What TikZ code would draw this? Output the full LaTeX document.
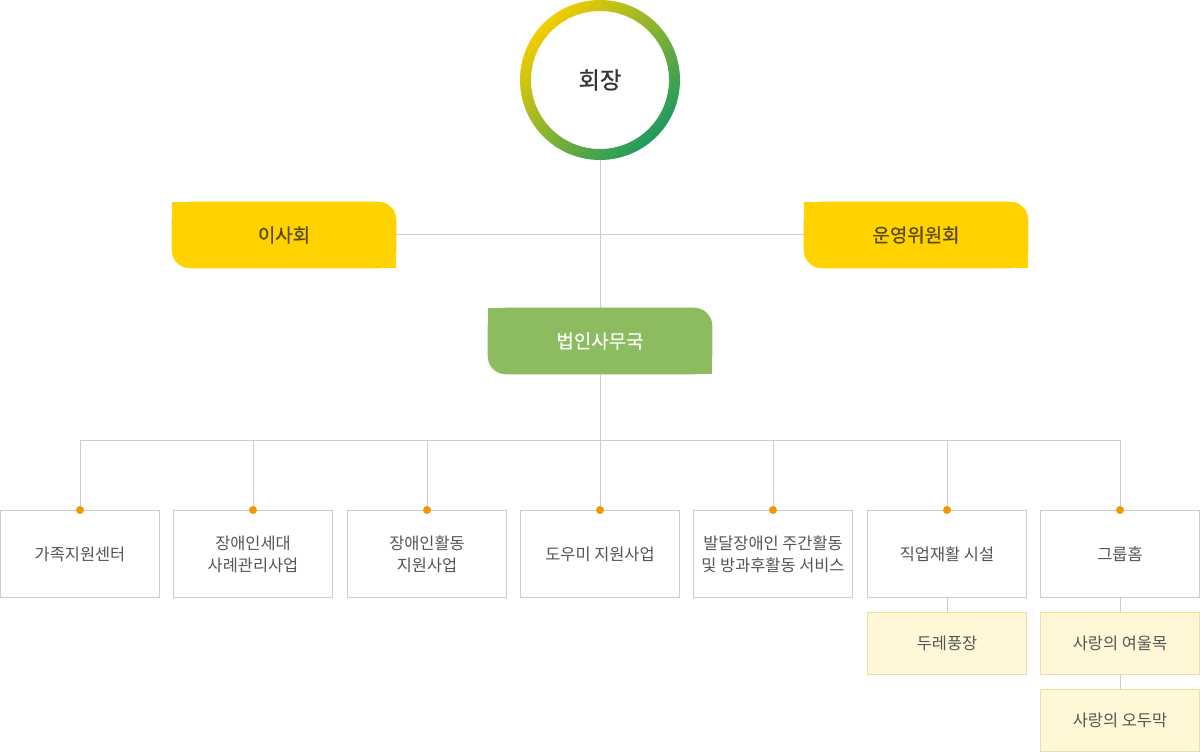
\documentclass[tikz,border=0pt]{standalone}
\usepackage{fontspec}
\setmainfont{Noto Sans CJK KR}
\newfontfamily\medfont{Noto Sans CJK KR}[FakeBold=0.7]
\usetikzlibrary{backgrounds}
\definecolor{ringY}{HTML}{F2CD00}
\definecolor{ringM}{HTML}{93B833}
\definecolor{ringG}{HTML}{1F9A60}
\definecolor{boardY}{HTML}{FFD200}
\definecolor{boardT}{HTML}{5A4A0A}
\definecolor{officeG}{HTML}{8DBB5F}
\definecolor{lineC}{HTML}{CCCCCC}
\definecolor{dotC}{HTML}{F39800}
\definecolor{subF}{HTML}{FFF7D6}
\definecolor{subB}{HTML}{EADFA8}
\definecolor{txt}{HTML}{555555}
\begin{document}
\begin{tikzpicture}[x=0.75pt,y=-0.75pt,
  conn/.style={draw=lineC, line width=0.75pt},
  chairnode/.style={circle, minimum size=103.5pt, inner sep=0pt, text=black!80, font=\medfont\fontsize{17.5pt}{20pt}\selectfont},
  topbox/.style={minimum width=168pt, minimum height=49.5pt, inner sep=0pt, font=\medfont\fontsize{14.2pt}{17pt}\selectfont},
  unitbox/.style={draw=lineC, line width=0.75pt, minimum width=119.25pt, minimum height=65.25pt, inner sep=0pt, align=center, text=txt, font=\fontsize{12.3pt}{16.5pt}\selectfont},
  subbox/.style={draw=subB, fill=subF, line width=0.75pt, minimum width=119.25pt, minimum height=46.5pt, inner sep=0pt, align=center, text=txt, font=\fontsize{12.3pt}{16.5pt}\selectfont},
  dot/.style={fill=dotC}
]
\useasboundingbox (0,0) rectangle (1200,752);

% chair ring
\shade[shading=axis, top color=ringY, middle color=ringM, bottom color=ringG, shading angle=45, even odd rule]
  (600,80) circle[radius=60pt] (600,80) circle[radius=51.75pt];
\node[chairnode] (chair) at (600,80) {회장};

% top boxes
\node[topbox, text=boardT] (board) at (284,235) {이사회};
\node[topbox, text=boardT] (ops) at (916,235) {운영위원회};
\node[topbox, text=white] (office) at (600,341) {법인사무국};

\begin{scope}[on background layer]
  \fill[white] (0,0) rectangle (1200,752);
  \draw[conn] (chair.south) -- (office.north);
  \draw[conn] (board.east) -- (ops.west);
  \foreach \n/\c in {board/boardY, ops/boardY, office/officeG}{
    \fill[\c, rounded corners=13.5pt] (\n.north west) rectangle (\n.south east);
    \fill[\c] (\n.north west) rectangle ([xshift=20pt,yshift=-20pt]\n.north west);
    \fill[\c] (\n.south east) rectangle ([xshift=-20pt,yshift=20pt]\n.south east);
  }
\end{scope}

% units
\node[unitbox] (u1) at (80,554) {가족지원센터};
\node[unitbox] (u2) at (253,554) {장애인세대\\사례관리사업};
\node[unitbox] (u3) at (427,554) {장애인활동\\지원사업};
\node[unitbox] (u4) at (600,554) {도우미 지원사업};
\node[unitbox] (u5) at (773,554) {발달장애인 주간활동\\및 방과후활동 서비스};
\node[unitbox] (u6) at (947,554) {직업재활 시설};
\node[unitbox] (u7) at (1120,554) {그룹홈};

\node[subbox] (s1) at (947,643.5) {두레풍장};
\node[subbox] (s2) at (1120,643.5) {사랑의 여울목};
\node[subbox] (s3) at (1120,720.5) {사랑의 오두막};

% connectors
\draw[conn] (office.south) -- ++(0,66) coordinate (hub);
\foreach \u in {u1,u2,u3,u4,u5,u6,u7}{
  \draw[conn] (hub) -| (\u.north);
}
\draw[conn] (u6.south) -- (s1.north);
\draw[conn] (u7.south) -- (s2.north);
\draw[conn] (s2.south) -- (s3.north);
\foreach \u in {u1,u2,u3,u4,u5,u6,u7}{
  \fill[dot] (\u.north) circle[radius=3pt];
}
\end{tikzpicture}
\end{document}
